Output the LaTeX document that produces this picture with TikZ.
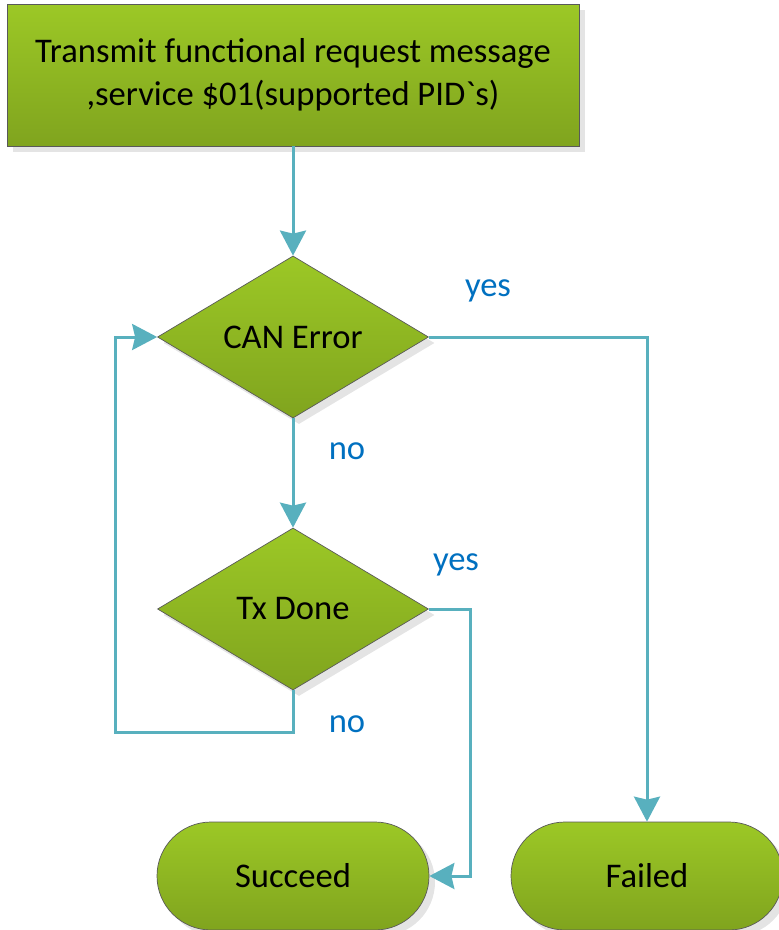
\documentclass[tikz,border=0pt]{standalone}
\usepackage{fontspec}
\setmainfont{Carlito}[Ligatures=TeXOff]
\usetikzlibrary{shapes.geometric,arrows.meta,shadows}
\definecolor{flowline}{RGB}{88,176,190}
\definecolor{lbl}{RGB}{0,112,192}
\definecolor{gtop}{RGB}{156,200,38}
\definecolor{gbot}{RGB}{128,164,30}
\definecolor{shade}{RGB}{228,228,228}

\begin{document}
\begin{tikzpicture}[x=1pt,y=-1pt,
  greenfill/.style={draw=black!65, line width=0.7pt, top color=gtop, bottom color=gbot,
    font=\fontsize{34.6}{43}\selectfont, inner sep=0pt,
    drop shadow={shadow xshift=6pt, shadow yshift=-6pt, fill=shade, opacity=1}},
  procbox/.style={greenfill, rectangle, align=center},
  decision/.style={greenfill, diamond, minimum width=271pt, minimum height=162pt},
  terminal/.style={greenfill, rectangle, rounded corners=54pt, minimum width=272pt, minimum height=108pt},
  flow/.style={draw=flowline, line width=3pt, -{Stealth[length=25pt,width=26pt,inset=3pt]}},
  answer/.style={text=lbl, font=\fontsize{34.6}{40}\selectfont, anchor=base}]
\useasboundingbox (0,0) rectangle (779,930);

% process and decisions
\node[procbox, minimum width=572pt, minimum height=142pt] (req) at (293,75)
  {Transmit functional request message\\,service \$01(supported PID`s)};
\node[decision] (can) at (293,337) {CAN Error};
\node[decision] (tx) at (293,609) {Tx Done};

% end states
\node[terminal] (ok) at (293,876) {Succeed};
\node[terminal] (fail) at (647,876) {Failed};

% connectors
\draw[flow] (req) -- (can);
\draw[flow] (can) -- (tx);
\draw[flow] (can.east) -| (fail.north);
\draw[flow] (tx.east) -- ++(42,0) |- (ok.east);
\draw[flow] (tx.south) -- ++(0,42) -- ++(-178,0) |- (can.west);

% branch labels
\node[answer] (yes1) at (488,296) {yes};
\node[answer] (no1) at (347,459) {no};
\node[answer] (yes2) at (456,570) {yes};
\node[answer] (no2) at (347,732) {no};
\end{tikzpicture}
\end{document}
